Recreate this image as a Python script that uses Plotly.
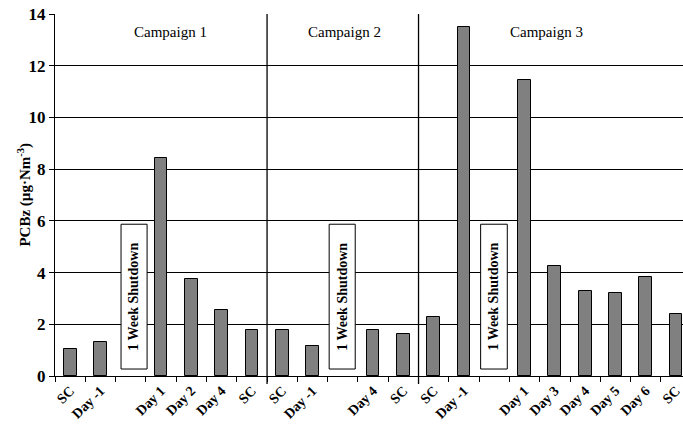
import plotly.graph_objects as go

# Sampling labels and PCBz concentrations per campaign (None = shutdown week, no sample)
campaign1_labels = ["SC", "Day -1", "", "Day 1", "Day 2", "Day 4", "SC"]
campaign1_values = [1.05, 1.30, None, 8.45, 3.74, 2.55, 1.79]

campaign2_labels = ["SC", "Day -1", "", "Day 4", "SC"]
campaign2_values = [1.79, 1.16, None, 1.77, 1.62]

campaign3_labels = ["SC", "Day -1", "", "Day 1", "Day 3", "Day 4", "Day 5", "Day 6", "SC"]
campaign3_values = [2.28, 13.50, None, 11.43, 4.24, 3.29, 3.20, 3.83, 2.40]

campaign_names = ["Campaign 1", "Campaign 2", "Campaign 3"]
y_ticks = [0, 2, 4, 6, 8, 10, 12, 14]

labels = campaign1_labels + campaign2_labels + campaign3_labels
values = campaign1_values + campaign2_values + campaign3_values
n_slots = len(labels)
centers = [i + 0.5 for i in range(n_slots)]

# only label slots that hold a sample
label_pos = [c for c, t in zip(centers, labels) if t]
label_txt = [f"<b>{t}</b>" for t in labels if t]

# slot boundaries where one campaign ends and the next starts
b1 = len(campaign1_labels)
b2 = b1 + len(campaign2_labels)

serif = "Liberation Serif"

fig = go.Figure()
fig.add_trace(go.Bar(
    x=centers, y=values, width=0.42,
    marker=dict(color="#808080", line=dict(color="black", width=1)),
    showlegend=False, hoverinfo="skip",
))

shapes = []
# campaign dividers
for xb in (b1, b2):
    shapes.append(dict(type="line", xref="x", yref="paper", x0=xb, x1=xb,
                       y0=-0.022, y1=1, line=dict(color="black", width=1.3)))

annotations = []
# shutdown boxes in each campaign's empty slot
shutdown_boxes = [(2.18, 3.04), (9.05, 9.91), (14.05, 14.93)]
for x0, x1 in shutdown_boxes:
    shapes.append(dict(type="rect", xref="x", yref="y", x0=x0, x1=x1, y0=0.27, y1=5.87,
                       fillcolor="white", line=dict(color="black", width=1), layer="above"))
    annotations.append(dict(x=(x0 + x1) / 2, y=(0.27 + 5.87) / 2, xref="x", yref="y",
                            text="<b>1 Week Shutdown</b>", textangle=-90, showarrow=False,
                            font=dict(family=serif, size=14, color="black")))

# campaign titles
for name, xc in zip(campaign_names, [3.8, 9.54, 16.23]):
    annotations.append(dict(x=xc, y=13.31, xref="x", yref="y", text=name, showarrow=False,
                            font=dict(family=serif, size=15, color="black")))

# y-axis title
annotations.append(dict(x=-0.05, y=0.5, xref="paper", yref="paper",
                        text="<b>PCBz (µg·Nm<sup>-3</sup>)</b>", textangle=-90, showarrow=False,
                        xanchor="center", yanchor="middle",
                        font=dict(family=serif, size=15, color="black")))

fig.update_layout(
    width=683, height=428,
    margin=dict(l=55, r=0, t=14, b=52),
    paper_bgcolor="white", plot_bgcolor="white",
    bargap=0, shapes=shapes, annotations=annotations,
    xaxis=dict(
        range=[0, 20.73],
        tickvals=label_pos, ticktext=label_txt,
        tickangle=-45, ticks="", showgrid=False, zeroline=False,
        showline=True, linecolor="black", linewidth=1,
        ticklabeloverflow="allow",
        tickfont=dict(family=serif, size=14, color="black"),
        minor=dict(tickvals=list(range(n_slots + 1)), ticks="outside", ticklen=5,
                   tickcolor="black", tickwidth=1, showgrid=False),
    ),
    yaxis=dict(
        range=[0, 14], tickvals=y_ticks, ticktext=[f"<b>{v}</b>" for v in y_ticks],
        showgrid=True, gridcolor="black", gridwidth=1,
        zeroline=False, showline=True, linecolor="black", linewidth=1,
        ticks="outside", ticklen=5, tickcolor="black",
        tickfont=dict(family=serif, size=17, color="black"),
    ),
)

fig.write_html("out.html")
